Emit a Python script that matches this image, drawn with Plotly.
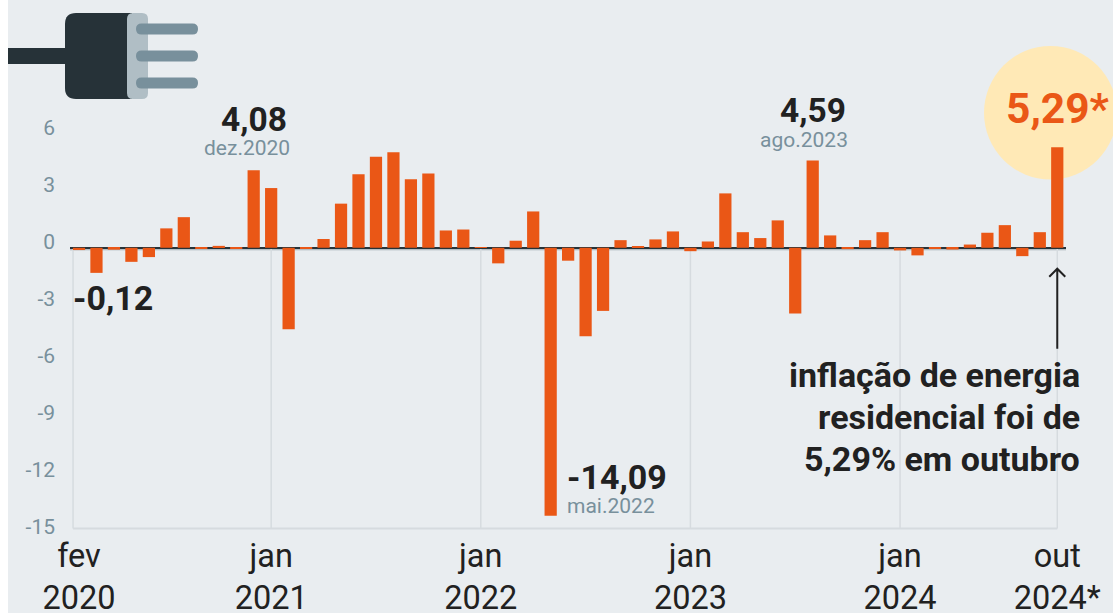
import plotly.graph_objects as go

months = ["fev","mar","abr","mai","jun","jul","ago","set","out","nov","dez"]
all_m = ["jan"] + months
categories = [f"{m}.2020" for m in months]
for yr in (2021, 2022, 2023):
    categories += [f"{m}.{yr}" for m in all_m]
categories += [f"{m}.2024" for m in all_m[:10]]

values = [-0.12,-1.32,-0.10,-0.74,-0.49,1.02,1.61,-0.05,0.10,-0.05,4.08,
          3.14,-4.29,-0.03,0.46,2.32,3.86,4.79,5.02,3.60,3.91,0.91,0.96,
          0.02,-0.82,0.37,1.91,-14.09,-0.68,-4.65,-3.32,0.40,0.05,0.44,0.86,
          -0.18,0.33,2.86,0.82,0.51,1.44,-3.46,4.59,0.65,-0.07,0.40,0.82,
          -0.14,-0.40,-0.02,-0.09,0.17,0.79,1.19,-0.44,0.82,5.29]

y_ticks = [6,3,0,-3,-6,-9,-12,-15]
x_ticks = ["fev.2020","jan.2021","jan.2022","jan.2023","jan.2024","out.2024"]
x_tick_text = ["fev<br>2020","jan<br>2021","jan<br>2022","jan<br>2023","jan<br>2024","out<br>2024*"]
grid_months = ["jan.2021","jan.2022","jan.2023","jan.2024","out.2024"]

W, H = 1113, 613
L, R, T, B = 70, 47, 0, 80
PW, PH = W-L-R, H-T-B
ORANGE = "#EA5716"; DARK = "#263238"; GREY = "#78909C"; BLACK = "#212121"; GRID = "#D6DBDF"
BG = "#E9EDF0"
YMIN = -15; YMAX = 13.03; AXIS_FLOOR = -14.76

def px(x): return (x-L)/PW
def py(y): return (H-B-y)/PH

def rrect(x0,y0,x1,y1,r,color,rl=True,rr=True):
    a,b,c,d = px(x0),px(x1),py(y0),py(y1)
    rx,ry = r/PW, r/PH
    p = f"M {a+rx if rl else a} {c} L {b-rx if rr else b} {c} "
    p += f"Q {b} {c} {b} {c-ry} L {b} {d+ry} Q {b} {d} {b-rx} {d} " if rr else f"L {b} {d} "
    p += f"L {a+rx if rl else a} {d} "
    p += f"Q {a} {d} {a} {d+ry} L {a} {c-ry} Q {a} {c} {a+rx} {c} Z" if rl else f"L {a} {c} Z"
    return dict(type="path",path=p,xref="paper",yref="paper",fillcolor=color,line=dict(width=0),layer="above")

shapes = []
# white strip at the left edge
shapes.append(dict(type="rect",xref="paper",yref="paper",x0=px(0),x1=px(8),y0=0-B/PH,y1=1,fillcolor="white",line=dict(width=0),layer="below"))
# highlight circle
shapes.append(dict(type="circle",xref="paper",yref="paper",x0=px(984),x1=px(1117),y0=py(179.5),y1=py(46),fillcolor="#FFE9B6",line=dict(width=0),layer="below"))
# grid below zero
shapes.append(dict(type="line",xref="x",yref="y",x0=-0.34,x1=-0.34,y0=0,y1=AXIS_FLOOR,line=dict(color=GRID,width=1.5),layer="below"))
for g in grid_months:
    shapes.append(dict(type="line",xref="x",yref="y",x0=g,x1=g,y0=0,y1=AXIS_FLOOR,line=dict(color=GRID,width=1.5),layer="below"))
shapes.append(dict(type="line",xref="x",yref="y",x0=-0.34,x1=56,y0=AXIS_FLOOR,y1=AXIS_FLOOR,line=dict(color=GRID,width=2),layer="below"))
# soft grey edge under the zero line
shapes.append(dict(type="line",xref="paper",yref="y",ysizemode="pixel",yanchor=0,x0=0,x1=1,y0=-2,y1=-2,line=dict(color="#A3ADB3",width=1),layer="below"))
# arrow
shapes.append(dict(type="path",xref="x",yref="y",xsizemode="pixel",ysizemode="pixel",xanchor=56,yanchor=0,
                   path="M 0 -101 L 0 -21 M -8 -29 L 0 -21 L 8 -29",line=dict(color=BLACK,width=2)))
# plug
shapes.append(dict(type="rect",xref="paper",yref="paper",x0=px(8),x1=px(66),y0=py(64),y1=py(48),fillcolor=DARK,line=dict(width=0),layer="above"))
shapes.append(rrect(65,13,132,99,11,DARK,True,False))
shapes.append(rrect(127,13,148,99,6,"#B0BEC5",True,True))
for yc in (29,56,83):
    shapes.append(rrect(136,yc-5.5,198,yc+5.5,5.5,GREY))

def note(x,y,text,size,color,xanchor="center",yshift=0,xshift=0,bold=False,weight=None):
    return dict(x=x,y=y,xref="x",yref="y",text=text,showarrow=False,xanchor=xanchor,yanchor="middle",
                xshift=xshift,yshift=yshift,font=dict(family="Roboto",size=size,color=color,weight=weight or (700 if bold else 400)))

annotations = [
    note("dez.2020",4.08,"4,08",33.5,BLACK,yshift=51,bold=True),
    note("dez.2020",4.08,"dez.2020",21,GREY,yshift=22,xshift=-7),
    note("fev.2020",-0.12,"-0,12",34,BLACK,xanchor="left",xshift=-8,yshift=-48,bold=True),
    note("mai.2022",-14.09,"-14,09",34,BLACK,xanchor="left",xshift=14,yshift=39,bold=True),
    note("mai.2022",-14.09,"mai.2022",21,GREY,xanchor="left",xshift=14,yshift=10),
    note("ago.2023",4.59,"4,59",33.5,BLACK,yshift=50,bold=True),
    note("ago.2023",4.59,"ago.2023",21,GREY,yshift=20,xshift=-9),
    note("out.2024",5.29,"5,29*",42.5,ORANGE,yshift=39,bold=True,xshift=1),
]
for line,ys in (("inflação de energia",-127),("residencial foi de",-169),("5,29% em outubro",-211)):
    annotations.append(note("out.2024",0,line,34,BLACK,xanchor="right",xshift=25,yshift=ys,bold=True))

fig = go.Figure(go.Bar(x=categories,y=values,marker=dict(color=ORANGE,line=dict(width=0)),width=0.7,hoverinfo="skip"))
fig.update_layout(
    width=W,height=H,autosize=False,margin=dict(l=L,r=R,t=T,b=B,pad=0,autoexpand=False),
    paper_bgcolor=BG,plot_bgcolor="rgba(0,0,0,0)",showlegend=False,
    shapes=shapes,annotations=annotations,
    xaxis=dict(type="category",categoryorder="array",categoryarray=categories,range=[-0.515,56.5],automargin=False,
               tickmode="array",tickvals=x_ticks,ticktext=x_tick_text,showgrid=False,zeroline=False,showline=False,ticks="",
               tickangle=0,tickfont=dict(family="Roboto",size=32.5,color=BLACK)),
    yaxis=dict(range=[YMIN,YMAX],automargin=False,tickmode="array",tickvals=y_ticks,ticktext=[str(v) for v in y_ticks],
               showgrid=False,zeroline=True,zerolinecolor=DARK,zerolinewidth=2,showline=False,ticks="",
               ticklabelshift=-6,ticklabelstandoff=14,tickfont=dict(family="Roboto",size=21,color=GREY)),
)
fig.write_html("out.html",config=dict(displayModeBar=False),post_script="document.body.style.margin='0';")
